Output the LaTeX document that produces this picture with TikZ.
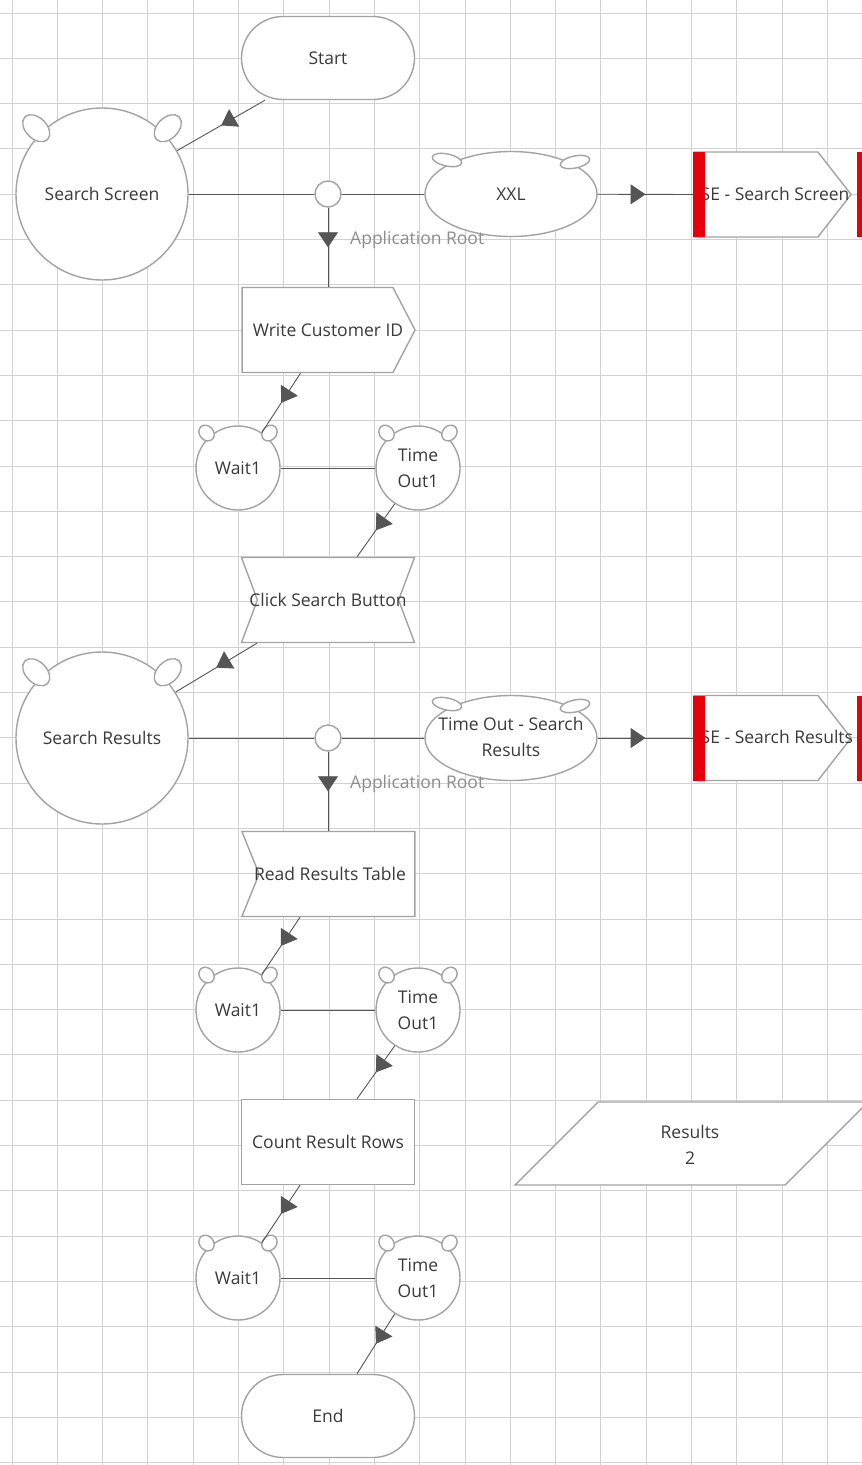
\documentclass[tikz,border=0pt]{standalone}
\usepackage{fontspec}
\setmainfont{Open Sans}
\usetikzlibrary{shapes.misc,shapes.geometric,shapes.symbols,decorations.markings,arrows.meta}

\definecolor{gridgray}{HTML}{D2D2D2}
\definecolor{shapegray}{HTML}{A3A3A3}
\definecolor{linegray}{HTML}{555555}
\definecolor{textgray}{HTML}{3A3A3A}
\definecolor{labelgray}{HTML}{8C8C8C}
\definecolor{sered}{HTML}{E5000B}

\tikzset{
  base/.style={draw=shapegray, line width=1.4pt, fill=white, text=textgray,
    font=\fontsize{17.5}{26}\selectfont, inner sep=0pt, align=center},
  term/.style={base, rounded rectangle, minimum width=173pt, minimum height=83pt},
  state/.style={base, circle, minimum size=172pt},
  wait/.style={base, circle, minimum size=84pt},
  junction/.style={base, circle, minimum size=26pt},
  event/.style={base, ellipse, minimum width=172pt, minimum height=85pt},
  action/.style={base, rectangle, minimum width=173pt, minimum height=85pt},
  writebox/.style={base, signal, signal to=east, signal pointer angle=125,
    minimum width=173pt, minimum height=85pt},
  clickbox/.style={base, signal, signal from=west and east, signal to=nowhere,
    signal pointer angle=139, minimum width=173pt, minimum height=85pt},
  readbox/.style={base, signal, signal from=west, signal to=nowhere,
    signal pointer angle=136, minimum width=173pt, minimum height=85pt},
  sebox/.style={base, signal, signal to=east, signal pointer angle=104,
    minimum width=157pt, minimum height=85pt},
  bigear/.style={base, ellipse, minimum width=32pt, minimum height=21pt},
  smallear/.style={base, ellipse, minimum width=17pt, minimum height=14pt},
  evear/.style={base, ellipse, minimum width=30pt, minimum height=12pt},
  txt/.style={text=textgray, font=\fontsize{17.5}{26}\selectfont, inner sep=0pt, align=center},
  rootlabel/.style={text=labelgray, font=\fontsize{17.5}{20}\selectfont, inner sep=0pt},
  link/.style={draw=linegray, line width=0.9pt},
  flow/.style={link, postaction={decorate}, decoration={markings,
    mark=at position 0.5 with {\arrow[linegray]{Triangle[width=20pt,length=15pt]}}}},
}

\begin{document}
\begin{tikzpicture}[x=1pt,y=-1pt]
\useasboundingbox (0,0) rectangle (862,1465);
\clip (0,0) rectangle (862,1465);
\fill[white] (0,0) rectangle (862,1465);
% grid
\foreach \k in {0,...,18}
  \draw[gridgray, line width=1pt] (12+45.3*\k,0) -- (12+45.3*\k,1465);
\foreach \k in {0,...,32}
  \draw[gridgray, line width=1pt] (0,13+45.3*\k) -- (862,13+45.3*\k);

% terminals and states
\node[term] (start) at (328,58) {Start};
\node[state] (ss) at (102,194) {Search Screen};
\node[junction] (j1) at (328,194) {};
\node[event] (xxl) at (511,194) {};
\node[txt] (xxltxt) at (xxl.center) {XXL};
\node[sebox] (se1) at (756,194.5) {};
\node[txt, anchor=west] (se1txt) at (700.5,194) {SE - Search Screen};
\fill[sered] (693,152) rectangle (705,237);
\fill[sered] (857,152) rectangle (870,237);
\node[rootlabel, anchor=west] (root1) at (350,240) {Application Root};

\node[writebox] (write) at (317.5,330) {};
\node[txt] (writetxt) at (328,330) {Write Customer ID};
\node[wait] (w1) at (238,468) {Wait1};
\node[wait] (t1) at (418,468) {Time\\Out1};
\node[clickbox] (click) at (328,600) {};
\node[txt] (clicktxt) at (328,600) {Click Search Button};

\node[state] (sr) at (102,738) {Search Results};
\node[junction] (j2) at (328,738) {};
\node[event] (tos) at (511,738) {};
\node[txt] (tostxt) at (511,737) {Time Out - Search\\Results};
\node[sebox] (se2) at (756,738) {};
\node[txt, anchor=west] (se2txt) at (700.5,737) {SE - Search Results};
\fill[sered] (693,696) rectangle (705,781);
\fill[sered] (857,696) rectangle (870,781);
\node[rootlabel, anchor=west] (root2) at (350,784) {Application Root};

\node[readbox] (read) at (337,874) {};
\node[txt] (readtxt) at (330,874) {Read Results Table};
\node[wait] (w2) at (238,1010) {Wait1};
\node[wait] (t2) at (418,1010) {Time\\Out1};
\node[action] (count) at (328,1142) {Count Result Rows};
\node[wait] (w3) at (238,1278) {Wait1};
\node[wait] (t3) at (418,1278) {Time\\Out1};
\node[term] (endn) at (328,1416) {End};

% results variable
\draw[base] (598,1102) -- (868,1102) -- (785,1185) -- (515,1185) -- cycle;
\node[txt] (res) at (690,1145) {Results\\2};

% ears
\foreach \s in {ss,sr}
  \foreach \a in {45,135}
    \node[bigear, rotate=\a] (\s-ear\a) at ([shift={(\a:93pt)}]\s.center) {};
\foreach \s in {w1,t1,w2,t2,w3,t3}
  \foreach \a in {48,132}
    \node[smallear, rotate=\a] (\s-ear\a) at ([shift={(\a:47pt)}]\s.center) {};
\foreach \s in {xxl,tos} {
  \node[evear, rotate=-12] (\s-earl) at ([shift={(-64pt,34pt)}]\s.center) {};
  \node[evear, rotate=12] (\s-earr) at ([shift={(64pt,32pt)}]\s.center) {};
}

% connectors
\draw[flow] ([xshift=-63pt]start.south) -- (ss.30);
\draw[link] (ss) -- (j1) -- (xxl);
\draw[flow] (xxl) -- (se1.west);
\draw[flow] (j1) -- (j1 |- write.north);
\draw[flow] ([xshift=-17pt]write.south) -- (w1.56);
\draw[link] (w1) -- (t1);
\draw[flow] (t1.-123) -- ([xshift=29pt]click.north);
\draw[flow] ([xshift=-71pt]click.south) -- (sr.32);
\draw[link] (sr) -- (j2) -- (tos);
\draw[flow] (tos) -- (se2.west);
\draw[flow] (j2) -- (j2 |- read.north);
\draw[flow] ([xshift=-37pt]read.south) -- (w2.56);
\draw[link] (w2) -- (t2);
\draw[flow] (t2.-123) -- ([xshift=29pt]count.north);
\draw[flow] ([xshift=-28pt]count.south) -- (w3.56);
\draw[link] (w3) -- (t3);
\draw[flow] (t3.-123) -- ([xshift=29pt]endn.north);
\end{tikzpicture}
\end{document}
